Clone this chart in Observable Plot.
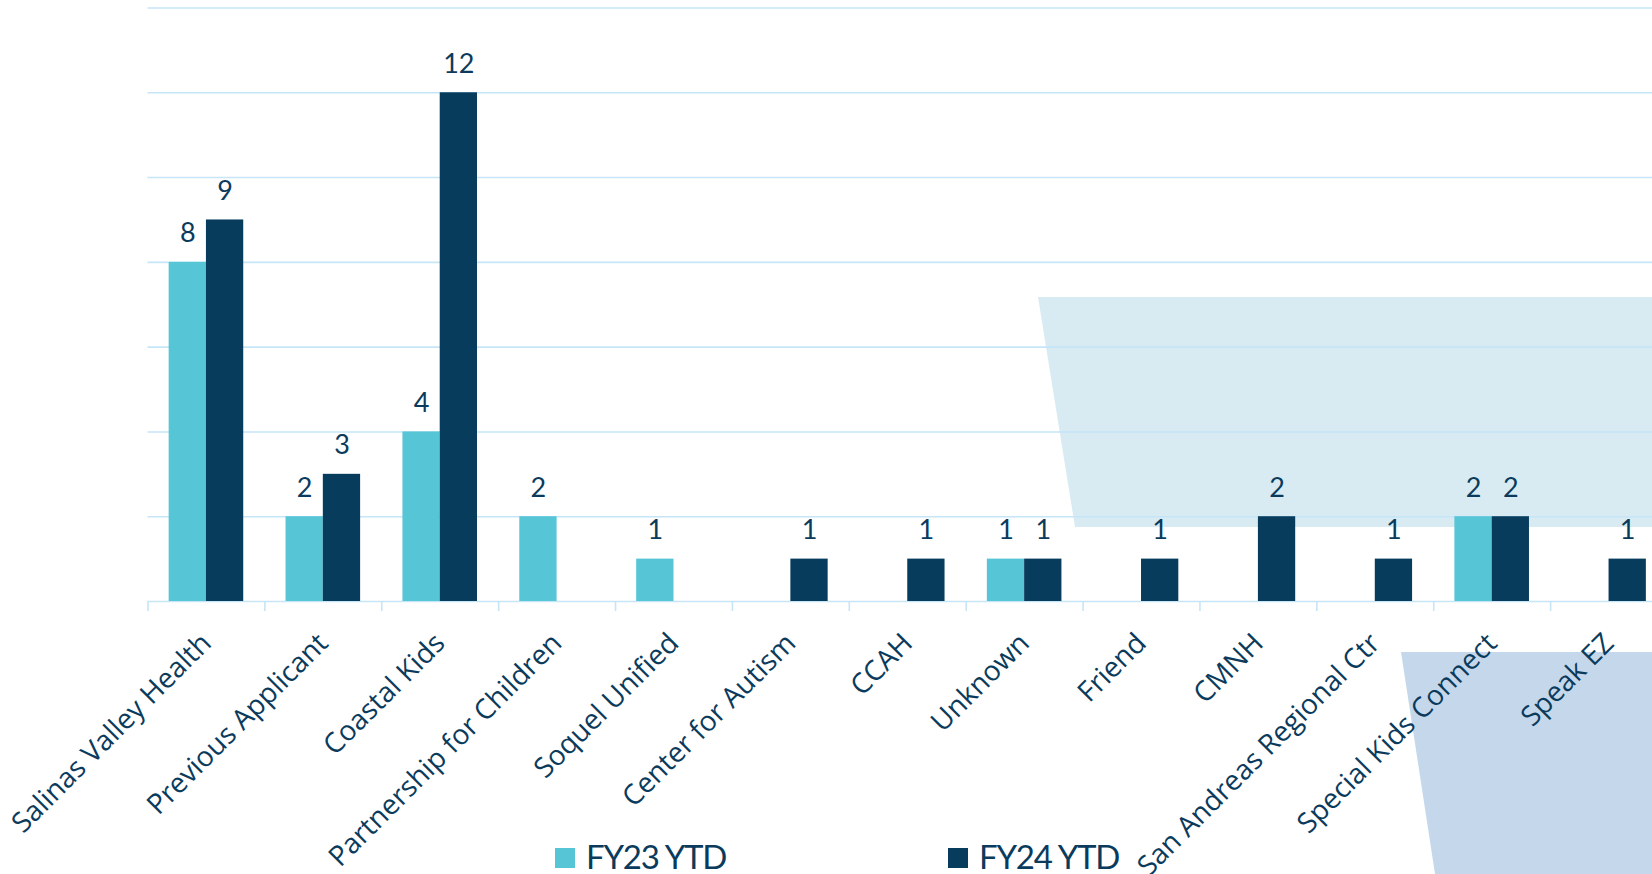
<!DOCTYPE html>
<html>
<head>
<meta charset="utf-8">
<script src="https://cdn.jsdelivr.net/npm/d3@7"></script>
<script src="https://cdn.jsdelivr.net/npm/@observablehq/plot@0.6"></script>
<style>
  html, body { margin: 0; padding: 0; background: #ffffff; overflow: hidden; width: 1652px; height: 874px; }
  #wrap { position: relative; width: 1652px; height: 874px; overflow: hidden; }
  .deco { position: absolute; left: 0; top: 0; width: 1652px; height: 874px; }
  #deco1 { background: #d8ebf2; clip-path: polygon(1038px 297px, 1652px 297px, 1652px 527px, 1075px 527px); }
  #deco2 { background: #c5d8eb; clip-path: polygon(1401px 652px, 1652px 652px, 1652px 874px, 1435px 874px); }
  #chart { position: absolute; left: 0; top: 0; }
  .lg-sw { position: absolute; top: 848px; width: 20px; height: 20px; }
  .lg-tx { position: absolute; top: 840px; font-family: Lato, sans-serif; font-size: 33px; line-height: 33px; letter-spacing: -1.2px; color: #0b3b5c; white-space: nowrap; }
</style>
</head>
<body>
<div id="wrap">
  <div class="deco" id="deco1"></div>
  <div class="deco" id="deco2"></div>
  <div id="chart"></div>
  <div id="legend"></div>
</div>
<script>
const categories = ["Salinas Valley Health", "Previous Applicant", "Coastal Kids", "Partnership for Children", "Soquel Unified", "Center for Autism", "CCAH", "Unknown", "Friend", "CMNH", "San Andreas Regional Ctr", "Special Kids Connect", "Speak EZ"];
const fy23 = [8, 2, 4, 2, 1, null, null, 1, null, null, null, 2, null];
const fy24 = [9, 3, 12, null, null, 1, 1, 1, 1, 2, 1, 2, 1];
const seriesNames = ["FY23 YTD", "FY24 YTD"];
const seriesColors = ["#56c5d5", "#073c5c"];
const yTicks = [0, 2, 4, 6, 8, 10, 12, 14];

const textColor = "#0b3b5c";
const gridColor = "#c6e5f7";

const width = 1667, marginLeft = 147.5, marginRight = 0;
const step = (width - marginLeft - marginRight) / categories.length;
const barW = step * 0.319;

const rows23 = categories.map((c, i) => ({category: c, value: fy23[i]})).filter(d => d.value != null);
const rows24 = categories.map((c, i) => ({category: c, value: fy24[i]})).filter(d => d.value != null);

const chart = Plot.plot({
  width,
  height: 874,
  marginLeft,
  marginRight,
  marginTop: 7.5,
  marginBottom: 273,
  style: {background: "transparent", maxWidth: "none", overflow: "visible", fontFamily: "'Open Sans', sans-serif", fontSize: "28px", color: textColor},
  x: {domain: categories, padding: 0, round: false, axis: null},
  y: {domain: [0, 14], axis: null},
  marks: [
    Plot.ruleY(yTicks, {y: d => d, stroke: gridColor, strokeWidth: 1.6}),
    Plot.ruleX(categories, {x: d => d, y1: 0, y2: 0, insetBottom: -10, dx: -step / 2, stroke: gridColor, strokeWidth: 1.6}),
    Plot.barY(rows23, {x: "category", y: "value", fill: seriesColors[0], insetLeft: step / 2 - barW, insetRight: step / 2}),
    Plot.barY(rows24, {x: "category", y: "value", fill: seriesColors[1], insetLeft: step / 2, insetRight: step / 2 - barW}),
    Plot.text(rows23, {x: "category", y: "value", text: d => String(d.value), dx: -barW / 2, dy: -20, lineAnchor: "bottom", fontSize: 27, fontFamily: "Lato, sans-serif", fill: textColor}),
    Plot.text(rows24, {x: "category", y: "value", text: d => String(d.value), dx: barW / 2, dy: -20, lineAnchor: "bottom", fontSize: 27, fontFamily: "Lato, sans-serif", fill: textColor}),
    // category axis labels, rotated like the reference
    Plot.text(categories, {x: d => d, y: 0, text: d => d, rotate: -45, textAnchor: "end", lineAnchor: "middle", dx: 0, dy: 37, fontSize: 28, fontFamily: "'Open Sans', sans-serif", fill: textColor})
  ]
});
document.getElementById("chart").appendChild(chart);

// legend below the chart area
const legendX = [555, 948];
const legend = document.getElementById("legend");
seriesNames.forEach((name, i) => {
  const sw = document.createElement("div");
  sw.className = "lg-sw";
  sw.style.left = legendX[i] + "px";
  sw.style.background = seriesColors[i];
  legend.appendChild(sw);
  const tx = document.createElement("div");
  tx.className = "lg-tx";
  tx.style.left = (legendX[i] + 31) + "px";
  tx.textContent = name;
  legend.appendChild(tx);
});
</script>
</body>
</html>
